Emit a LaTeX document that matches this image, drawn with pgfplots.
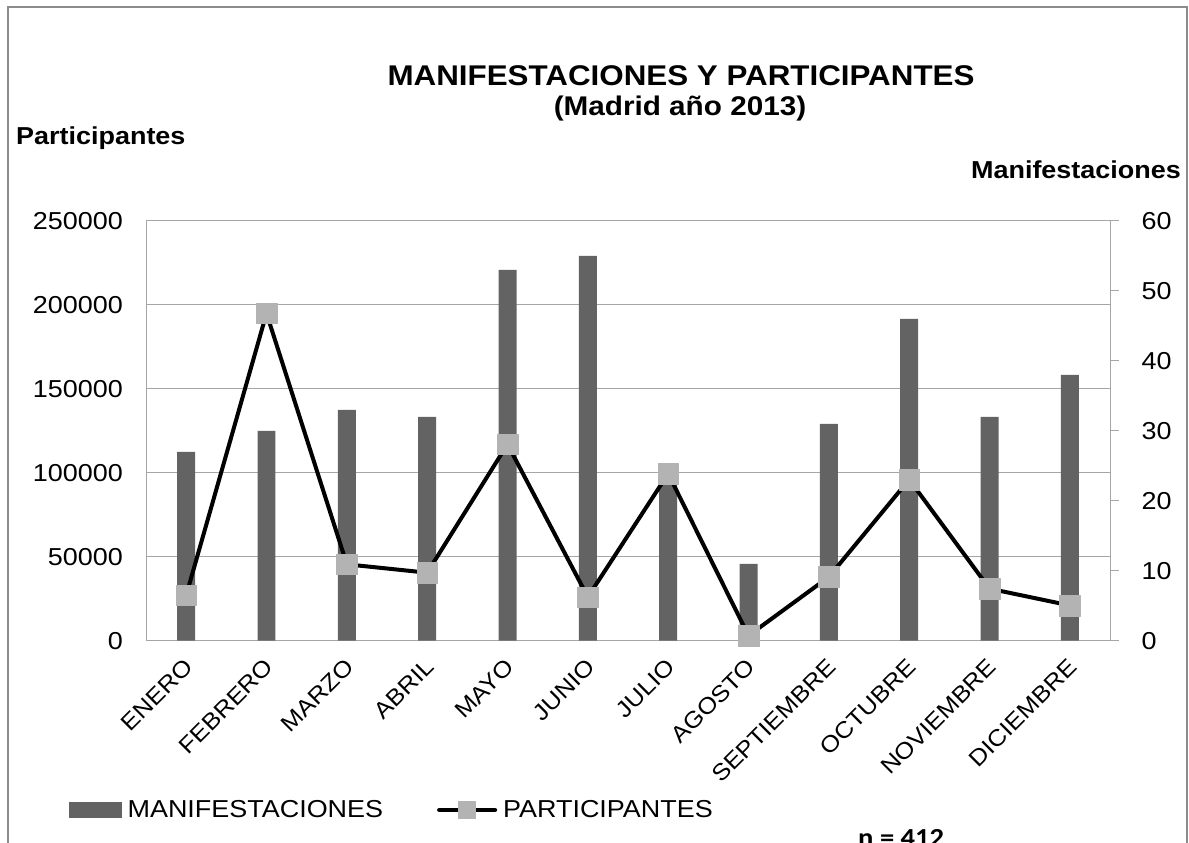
\documentclass[border=0pt]{standalone}
\usepackage{fontspec}
\setmainfont{Liberation Sans}[FakeStretch=1.1]
\newfontfamily\calibri{Carlito}[FakeStretch=1.1]
\usepackage{pgfplots}
\pgfplotsset{compat=1.18}
\definecolor{barc}{RGB}{99,99,99}
\definecolor{markc}{RGB}{179,179,179}
\definecolor{gridc}{RGB}{166,166,166}
\definecolor{framec}{RGB}{140,140,140}
\newcommand{\tickfont}{\fontsize{24.5}{28}\selectfont}
\newcommand{\xfont}{\fontsize{23}{26}\selectfont}
\begin{document}
\begin{tikzpicture}
\useasboundingbox (0pt,0pt) rectangle (1189pt,843pt);
\draw[framec, line width=1.5pt] (8pt,-5pt) -- (8pt,836pt) -- (1187pt,836pt) -- (1187pt,-5pt);
% bars on the right axis
\begin{axis}[
  at={(146pt,202.3pt)}, anchor=south west, scale only axis,
  width=964pt, height=419.7pt,
  xmin=-0.5, xmax=11.5, ymin=0, ymax=60,
  xtick=\empty,
  ytick={0,10,...,60},
  ytick pos=right, yticklabel pos=right,
  tick align=outside, major tick length=8.5pt,
  tick style={gridc, line width=1pt},
  axis line style={gridc, line width=1pt},
  extra y ticks={12,24,36,48},
  extra y tick labels={},
  extra y tick style={grid=major, major tick length=0pt},
  major grid style={gridc, line width=1pt},
  every y tick label/.append style={font=\tickfont, anchor=west, inner sep=0pt, xshift=23pt},
  /pgf/number format/assume math mode=true,
]
\addplot[ybar, bar width=0.224, bar shift=0pt, fill=barc, draw=none] coordinates {
 (0,27) (1,30) (2,33) (3,32) (4,53) (5,55) (6,24) (7,11) (8,31) (9,46) (10,32) (11,38)};
\end{axis}
% line on the left axis
\begin{axis}[
  at={(146pt,202.3pt)}, anchor=south west, scale only axis,
  width=964pt, height=419.7pt,
  xmin=-0.5, xmax=11.5, ymin=0, ymax=250000,
  axis line style={draw=none},
  major tick length=0pt,
  xtick={0,...,11},
  xticklabels={ENERO,FEBRERO,MARZO,ABRIL,MAYO,JUNIO,JULIO,AGOSTO,SEPTIEMBRE,OCTUBRE,NOVIEMBRE,DICIEMBRE},
  ytick={0,50000,...,250000},
  ytick pos=left, yticklabel pos=left,
  scaled y ticks=false,
  /pgf/number format/assume math mode=true,
  /pgf/number format/1000 sep={},
  /pgf/number format/fixed,
  yticklabel style={font=\tickfont, anchor=east, inner sep=0pt, xshift=-23pt},
  xticklabel style={font=\xfont, rotate=45, anchor=east, inner sep=0pt, xshift=4pt},
  xticklabel shift=25pt,
  clip=false,
  legend style={at={(axis description cs:-0.0799,-0.4034)}, anchor=west, draw=none, fill=none,
    inner sep=0pt, font=\tickfont, nodes={inner sep=0pt},
    /tikz/every odd column/.append style={column sep=6pt},
    /tikz/every even column/.append style={column sep=54pt}},
  legend columns=2,
  legend cell align=left,
]
\addlegendimage{legend image code/.code={\fill[barc] (0pt,-7.5pt) rectangle (52pt,7.5pt);}}
\addlegendentry{MANIFESTACIONES}
\addplot[black, line width=4pt, line join=round, line cap=round, mark=square*, mark size=10.3pt,
  mark options={solid, fill=markc, draw=markc, line width=0.4pt},
  legend image code/.code={\draw[mark repeat=2, mark phase=2, mark size=8.5pt] plot coordinates {(0pt,0pt) (28pt,0pt) (56pt,0pt)};}]
 coordinates {
 (0,27000) (1,195000) (2,45500) (3,40500) (4,117000) (5,26000) (6,99500) (7,3000) (8,38000) (9,96000) (10,31000) (11,21000)};
\addlegendentry{PARTICIPANTES}
\end{axis}
\node[anchor=base, inner sep=0pt, font=\bfseries\fontsize{28.5}{32}\selectfont] at (681pt,757.5pt) {MANIFESTACIONES Y PARTICIPANTES};
\node[anchor=base, inner sep=0pt, font=\bfseries\fontsize{27}{30}\selectfont] at (680pt,727pt) {(Madrid año 2013)};
\node[anchor=base west, inner sep=0pt, font=\bfseries\tickfont] at (16pt,698pt) {Participantes};
\node[anchor=base east, inner sep=0pt, font=\bfseries\tickfont] at (1181pt,664.7pt) {Manifestaciones};
\node[anchor=base west, inner sep=0pt, font=\calibri\bfseries\fontsize{26}{30}\selectfont] at (858pt,-3.5pt) {n = 412};
\end{tikzpicture}
\end{document}
